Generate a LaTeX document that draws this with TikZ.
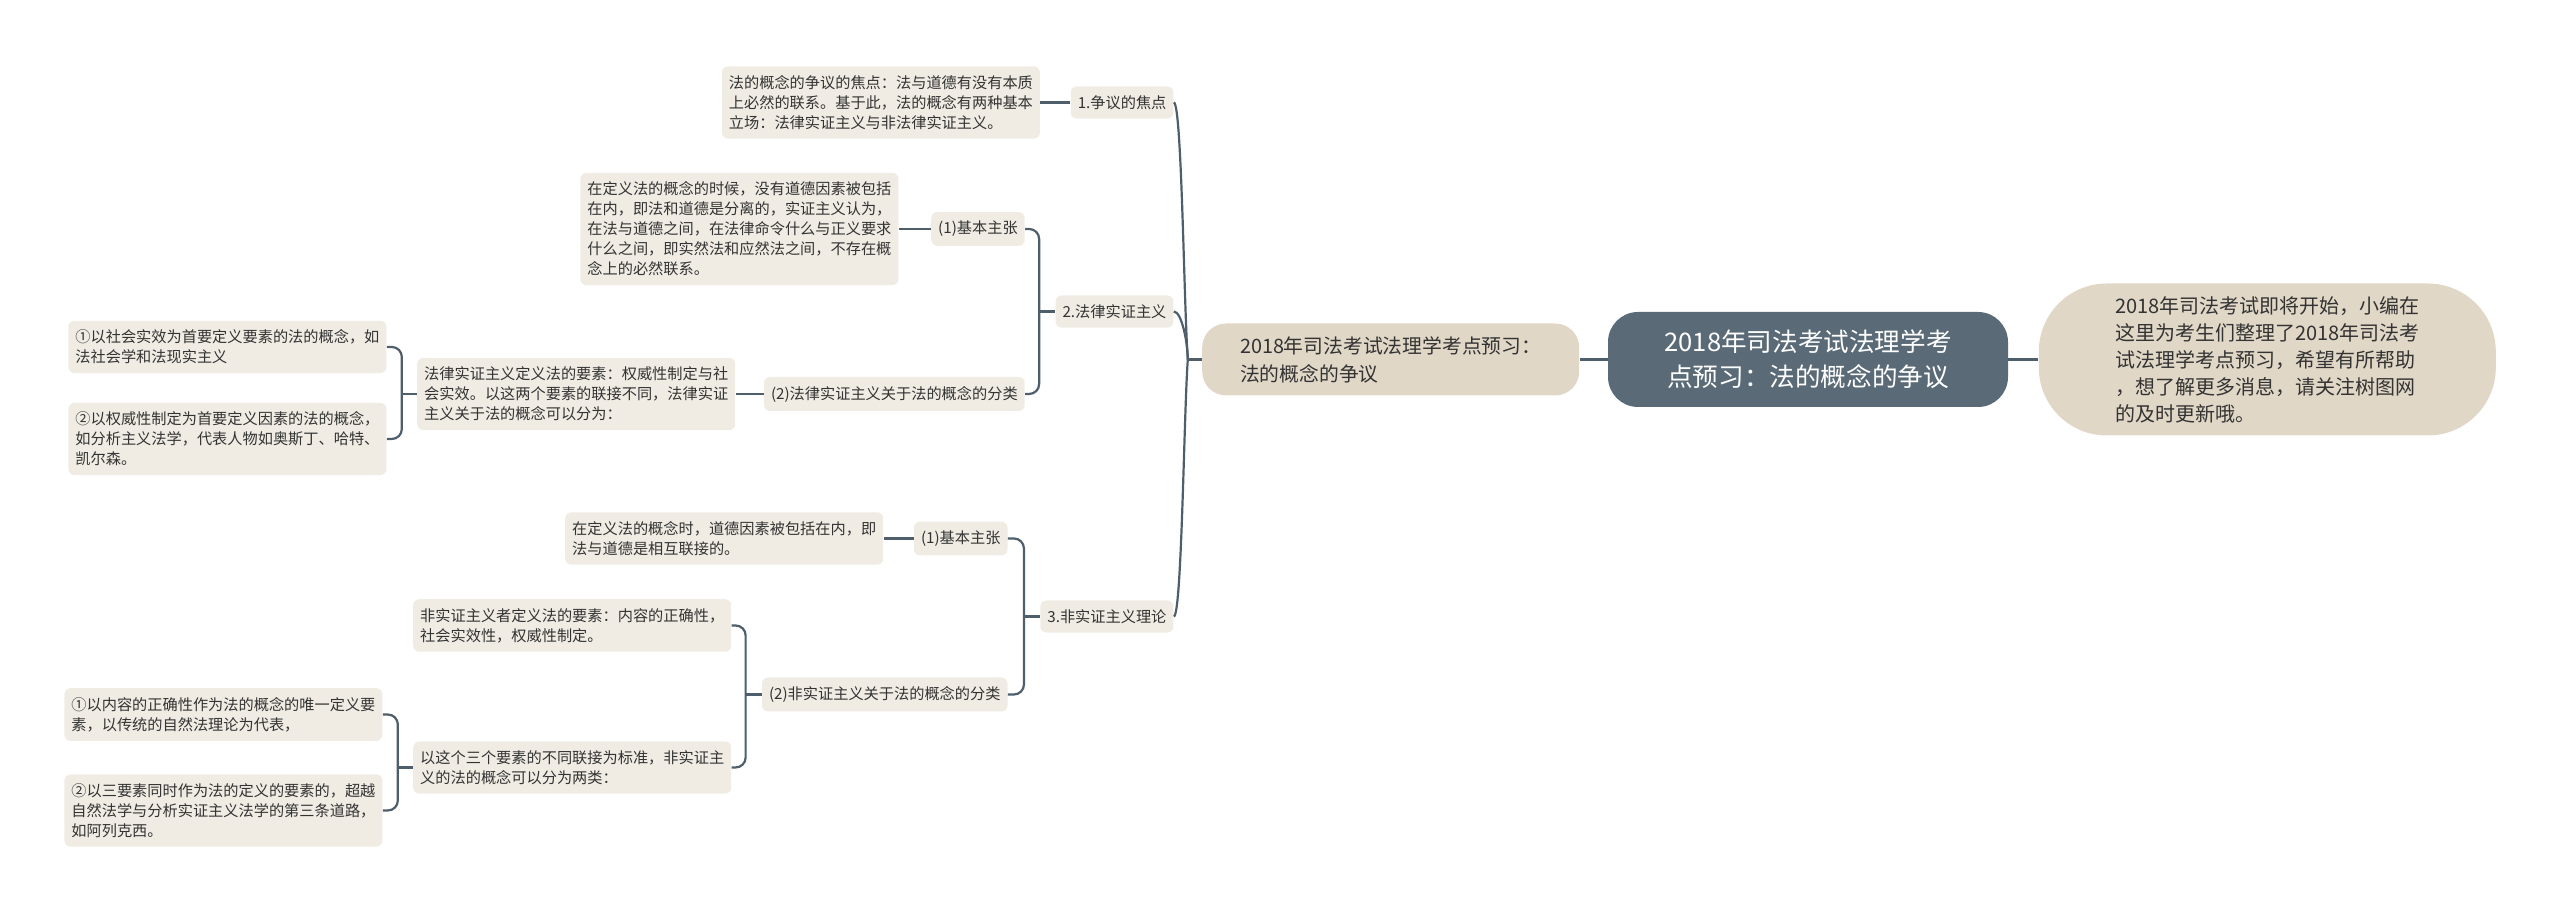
\documentclass[tikz,border=0pt]{standalone}
\usepackage{fontspec}
\setmainfont{Noto Sans CJK SC}
\usetikzlibrary{positioning}
\definecolor{hubcol}{HTML}{5A6B77}
\definecolor{tancol}{HTML}{E0D7C7}
\definecolor{papercol}{HTML}{F0ECE4}
\definecolor{linecol}{HTML}{4E5E6A}
\definecolor{inkcol}{HTML}{333333}
\tikzset{
  hubbox/.style   = {rounded corners=15pt, fill=hubcol, text=white,
                     minimum width=200pt, minimum height=47.5pt, align=center,
                     font=\fontsize{12.8}{17.5}\selectfont},
  introbox/.style = {rounded corners=34pt, fill=tancol, text=inkcol,
                     minimum width=228.5pt, minimum height=76pt, align=left,
                     font=\fontsize{10}{13.5}\selectfont},
  topicbox/.style = {rounded corners=12pt, fill=tancol, text=inkcol,
                     minimum width=188.5pt, minimum height=36pt, align=left,
                     font=\fontsize{9.9}{14}\selectfont},
  itembox/.style  = {rounded corners=3pt, fill=papercol, text=inkcol,
                     inner xsep=3.5pt, inner ysep=4.5pt, align=left,
                     font=\fontsize{7.6}{10}\selectfont},
  link/.style     = {draw=linecol, line width=1.1pt, rounded corners=5pt}
}

\begin{document}
\begin{tikzpicture}
\useasboundingbox (0,0) rectangle (1280pt,457pt);

\node (hub)   [hubbox] at (904pt,277.25pt) {2018年司法考试法理学考\\点预习：法的概念的争议};
\node (intro) [introbox, right=15pt of hub] {2018年司法考试即将开始，小编在\\这里为考生们整理了2018年司法考\\试法理学考点预习，希望有所帮助\\，想了解更多消息，请关注树图网\\的及时更新哦。};
\node (topic) [topicbox, left=14pt of hub] {2018年司法考试法理学考点预习：\\法的概念的争议};

% three points
\node (p1) [itembox, left=14pt of topic, yshift=128.5pt]  {1.争议的焦点};
\node (p2) [itembox, left=14pt of topic, yshift=24pt]     {2.法律实证主义};
\node (p3) [itembox, left=14pt of topic, yshift=-128.5pt] {3.非实证主义理论};

\node (p1t) [itembox, left=15pt of p1] {法的概念的争议的焦点：法与道德有没有本质\\上必然的联系。基于此，法的概念有两种基本\\立场：法律实证主义与非法律实证主义。};

% positivism
\node (p2a)  [itembox, left=15pt of p2, yshift=41.25pt]  {(1)基本主张};
\node (p2at) [itembox, left=16pt of p2a] {在定义法的概念的时候，没有道德因素被包括\\在内，即法和道德是分离的，实证主义认为，\\在法与道德之间，在法律命令什么与正义要求\\什么之间，即实然法和应然法之间，不存在概\\念上的必然联系。};
\node (p2b)  [itembox, left=15pt of p2, yshift=-41.25pt] {(2)法律实证主义关于法的概念的分类};
\node (p2bt) [itembox, left=14pt of p2b] {法律实证主义定义法的要素：权威性制定与社\\会实效。以这两个要素的联接不同，法律实证\\主义关于法的概念可以分为：};
\node (p2b1) [itembox, left=15pt of p2bt, yshift=23.5pt]  {①以社会实效为首要定义要素的法的概念，如\\法社会学和法现实主义};
\node (p2b2) [itembox, left=15pt of p2bt, yshift=-22.5pt] {②以权威性制定为首要定义因素的法的概念，\\如分析主义法学，代表人物如奥斯丁、哈特、\\凯尔森。};

% non-positivism
\node (p3a)   [itembox, left=16pt of p3, yshift=39pt]  {(1)基本主张};
\node (p3at)  [itembox, left=15pt of p3a] {在定义法的概念时，道德因素被包括在内，即\\法与道德是相互联接的。};
\node (p3b)   [itembox, left=16pt of p3, yshift=-39pt] {(2)非实证主义关于法的概念的分类};
\node (p3b1)  [itembox, left=15pt of p3b, yshift=34.5pt]  {非实证主义者定义法的要素：内容的正确性，\\社会实效性，权威性制定。};
\node (p3b2)  [itembox, left=15pt of p3b, yshift=-36.5pt] {以这个三个要素的不同联接为标准，非实证主\\义的法的概念可以分为两类：};
\node (p3b2a) [itembox, left=15pt of p3b2, yshift=26.5pt]  {①以内容的正确性作为法的概念的唯一定义要\\素，以传统的自然法理论为代表，};
\node (p3b2b) [itembox, left=15pt of p3b2, yshift=-21.5pt] {②以三要素同时作为法的定义的要素的，超越\\自然法学与分析实证主义法学的第三条道路，\\如阿列克西。};

% connectors
\coordinate (j0)   at ([xshift=-7pt]topic.west);
\coordinate (j2)   at ([xshift=-8pt]p2.west);
\coordinate (j2b)  at ([xshift=-7.5pt]p2bt.west);
\coordinate (j3)   at ([xshift=-8pt]p3.west);
\coordinate (j3b)  at ([xshift=-8pt]p3b.west);
\coordinate (j3b2) at ([xshift=-7.5pt]p3b2.west);

\draw[link] (hub) -- (intro);
\draw[link] (hub) -- (topic);
\draw[link] (j0) -- (topic.west);
\draw[link] (p1.east) .. controls +(4pt,0) and +(-2pt,28pt) .. (j0);
\draw[link] (p2.east) .. controls +(4pt,0) and +(0,8pt) .. (j0);
\draw[link] (p3.east) .. controls +(4pt,0) and +(-2pt,-28pt) .. (j0);

\draw[link] (p1) -- (p1t);
\draw[link] (p2a) -- (p2at);
\draw[link] (p2b) -- (p2bt);
\draw[link] (p3a) -- (p3at);

\draw[link] (p2a.east) -| (j2) |- (p2b.east);
\draw[link] (j2) -- (p2.west);
\draw[link] (p2b1.east) -| (j2b) |- (p2b2.east);
\draw[link] (j2b) -- (p2bt.west);
\draw[link] (p3a.east) -| (j3) |- (p3b.east);
\draw[link] (j3) -- (p3.west);
\draw[link] (p3b1.east) -| (j3b) |- (p3b2.east);
\draw[link] (j3b) -- (p3b.west);
\draw[link] (p3b2a.east) -| (j3b2) |- (p3b2b.east);
\draw[link] (j3b2) -- (p3b2.west);

\end{tikzpicture}
\end{document}
